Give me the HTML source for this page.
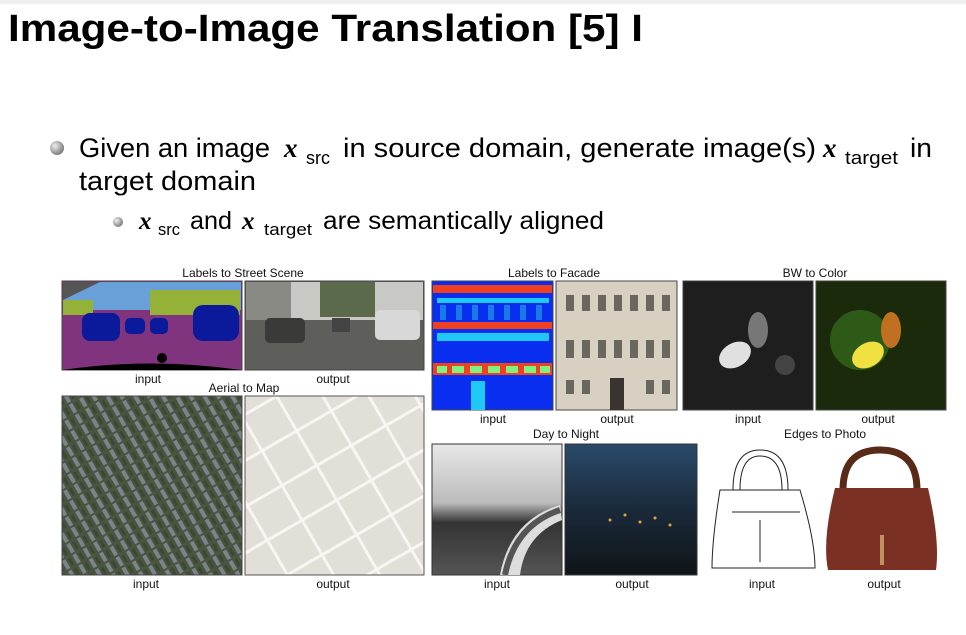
<!DOCTYPE html>
<html><head><meta charset="utf-8"><style>
html,body{margin:0;padding:0;background:#fff;width:966px;height:635px;overflow:hidden}
svg{display:block}
</style></head><body>
<svg width="966" height="635" viewBox="0 0 966 635" xmlns="http://www.w3.org/2000/svg" font-family="Liberation Sans, sans-serif">
<defs>
<radialGradient id="ball" cx="0.35" cy="0.35" r="0.7"><stop offset="0" stop-color="#eee"/><stop offset="1" stop-color="#777"/></radialGradient>
<linearGradient id="night" x1="0" y1="0" x2="0" y2="1"><stop offset="0" stop-color="#2a4a6a"/><stop offset="0.5" stop-color="#1a2a3a"/><stop offset="1" stop-color="#101418"/></linearGradient>
<linearGradient id="day" x1="0" y1="0" x2="0" y2="1"><stop offset="0" stop-color="#e8e8e8"/><stop offset="0.45" stop-color="#bbb"/><stop offset="0.6" stop-color="#333"/><stop offset="1" stop-color="#555"/></linearGradient>
<pattern id="aerial" width="12" height="12" patternUnits="userSpaceOnUse" patternTransform="rotate(-30)"><rect width="12" height="12" fill="#4a5440"/><rect x="1" y="1" width="4" height="10" fill="#7a848a"/><rect x="7" y="2" width="3" height="8" fill="#3a4a30"/></pattern>
<pattern id="map" width="40" height="40" patternUnits="userSpaceOnUse" patternTransform="rotate(-30)"><rect width="40" height="40" fill="#e2dfd8"/><rect x="0" y="0" width="40" height="3" fill="#f7f6f3"/><rect x="0" y="0" width="3" height="40" fill="#f7f6f3"/></pattern>
</defs>
<rect x="0" y="0" width="966" height="4" fill="#f0f0f0"/>
<text x="8" y="41" font-size="38" font-weight="bold" textLength="635" lengthAdjust="spacingAndGlyphs" fill="#000">Image-to-Image Translation [5] I</text>

<circle cx="57" cy="148" r="7" fill="url(#ball)"/>
<g font-size="27" fill="#000">
<text x="79" y="157" textLength="191" lengthAdjust="spacingAndGlyphs">Given an image</text>
<text x="284" y="157" font-family="Liberation Serif, serif" font-style="italic" font-weight="bold" font-size="27">x</text>
<text x="306" y="164" font-size="18" textLength="24" lengthAdjust="spacingAndGlyphs">src</text>
<text x="343" y="157" textLength="473" lengthAdjust="spacingAndGlyphs">in source domain, generate image(s)</text>
<text x="823" y="157" font-family="Liberation Serif, serif" font-style="italic" font-weight="bold" font-size="27">x</text>
<text x="845" y="164" font-size="18" textLength="53" lengthAdjust="spacingAndGlyphs">target</text>
<text x="910" y="157" textLength="22" lengthAdjust="spacingAndGlyphs">in</text>
<text x="79" y="190" textLength="177" lengthAdjust="spacingAndGlyphs">target domain</text>
</g>
<circle cx="118" cy="222" r="5" fill="url(#ball)"/>
<g font-size="25" fill="#000">
<text x="139" y="229" font-family="Liberation Serif, serif" font-style="italic" font-weight="bold" font-size="25">x</text>
<text x="158" y="235" font-size="17" textLength="22" lengthAdjust="spacingAndGlyphs">src</text>
<text x="190" y="229" textLength="42" lengthAdjust="spacingAndGlyphs">and</text>
<text x="242" y="229" font-family="Liberation Serif, serif" font-style="italic" font-weight="bold" font-size="25">x</text>
<text x="264" y="235" font-size="17" textLength="48" lengthAdjust="spacingAndGlyphs">target</text>
<text x="323" y="229" textLength="281" lengthAdjust="spacingAndGlyphs">are semantically aligned</text>
</g>

<g font-size="12" fill="#111" text-anchor="middle">
<text x="243" y="277">Labels to Street Scene</text>
<text x="554" y="277">Labels to Facade</text>
<text x="815" y="277">BW to Color</text>
<text x="148" y="383">input</text><text x="333" y="383">output</text>
<text x="244" y="392">Aerial to Map</text>
<text x="493" y="423">input</text><text x="617" y="423">output</text>
<text x="748" y="423">input</text><text x="878" y="423">output</text>
<text x="566" y="438">Day to Night</text>
<text x="825" y="438">Edges to Photo</text>
<text x="146" y="588">input</text><text x="333" y="588">output</text>
<text x="497" y="588">input</text><text x="632" y="588">output</text>
<text x="762" y="588">input</text><text x="884" y="588">output</text>
</g>

<!-- street labels -->
<rect x="62" y="281" width="180" height="89" fill="#80347e" stroke="#444"/>
<polygon points="63,282 241,282 241,310 63,310" fill="#6aa0d8"/>
<polygon points="63,282 100,282 63,300" fill="#555"/>
<rect x="150" y="290" width="90" height="25" fill="#95b238"/>
<rect x="63" y="300" width="30" height="15" fill="#95b238"/>
<rect x="82" y="313" width="38" height="28" rx="8" fill="#0a1a9a"/>
<rect x="125" y="318" width="20" height="16" rx="5" fill="#0a1a9a"/>
<rect x="150" y="318" width="18" height="16" rx="5" fill="#0a1a9a"/>
<rect x="193" y="305" width="46" height="36" rx="10" fill="#0a1a9a"/>
<path d="M63 370 Q150 357 241 370Z" fill="#000"/>
<circle cx="162" cy="358" r="5" fill="#000"/>
<!-- street output -->
<rect x="245" y="281" width="179" height="89" fill="#5e5e5a" stroke="#444"/>
<rect x="246" y="282" width="177" height="38" fill="#c8c8c4"/>
<rect x="246" y="282" width="45" height="38" fill="#8a8a84"/>
<rect x="320" y="282" width="55" height="35" fill="#5a6a4a"/>
<rect x="265" y="318" width="40" height="25" rx="5" fill="#3a3a38"/>
<rect x="375" y="310" width="45" height="30" rx="5" fill="#d8d8d8"/>
<rect x="332" y="318" width="18" height="14" fill="#444"/>

<!-- aerial -->
<rect x="62" y="396" width="180" height="179" fill="url(#aerial)" stroke="#444"/>
<rect x="245" y="396" width="179" height="179" fill="url(#map)" stroke="#555"/>

<!-- facade labels -->
<rect x="432" y="281" width="121" height="129" fill="#0a2ef0" stroke="#444"/>
<rect x="433" y="285" width="119" height="8" fill="#f04020"/>
<rect x="433" y="322" width="119" height="7" fill="#f04020"/>
<rect x="433" y="363" width="119" height="12" fill="#f04020"/>
<g fill="#20c8f8">
<rect x="437" y="298" width="112" height="5"/><rect x="437" y="333" width="112" height="8"/>
<rect x="471" y="381" width="14" height="29"/>
</g>
<g fill="#80f080"><rect x="437" y="366" width="10" height="7"/><rect x="452" y="366" width="12" height="7"/><rect x="470" y="366" width="12" height="7"/><rect x="488" y="366" width="12" height="7"/><rect x="506" y="366" width="12" height="7"/><rect x="524" y="366" width="12" height="7"/><rect x="540" y="366" width="10" height="7"/></g>
<g fill="#1a7ae8"><rect x="440" y="305" width="6" height="15"/><rect x="456" y="305" width="6" height="15"/><rect x="472" y="305" width="6" height="15"/><rect x="488" y="305" width="6" height="15"/><rect x="504" y="305" width="6" height="15"/><rect x="520" y="305" width="6" height="15"/><rect x="536" y="305" width="6" height="15"/></g>
<!-- facade output -->
<rect x="556" y="281" width="121" height="129" fill="#d8d0c0" stroke="#444"/>
<g fill="#6a6660"><rect x="566" y="295" width="8" height="16"/><rect x="582" y="295" width="8" height="16"/><rect x="598" y="295" width="8" height="16"/><rect x="614" y="295" width="8" height="16"/><rect x="630" y="295" width="8" height="16"/><rect x="646" y="295" width="8" height="16"/><rect x="662" y="295" width="8" height="16"/>
<rect x="566" y="340" width="8" height="18"/><rect x="582" y="340" width="8" height="18"/><rect x="598" y="340" width="8" height="18"/><rect x="614" y="340" width="8" height="18"/><rect x="630" y="340" width="8" height="18"/><rect x="646" y="340" width="8" height="18"/><rect x="662" y="340" width="8" height="18"/>
<rect x="566" y="380" width="8" height="14"/><rect x="582" y="380" width="8" height="14"/><rect x="610" y="378" width="14" height="32" fill="#3a3430"/><rect x="646" y="380" width="8" height="14"/><rect x="662" y="380" width="8" height="14"/></g>

<!-- BW -->
<rect x="683" y="281" width="130" height="129" fill="#1e1e1e" stroke="#444"/>
<ellipse cx="735" cy="355" rx="17" ry="12" fill="#e0e0e0" transform="rotate(-30 735 355)"/>
<ellipse cx="758" cy="330" rx="10" ry="18" fill="#777"/>
<circle cx="785" cy="365" r="10" fill="#444"/>
<rect x="816" y="281" width="130" height="129" fill="#1a2a0a" stroke="#444"/>
<ellipse cx="860" cy="340" rx="30" ry="30" fill="#2e5a18"/>
<ellipse cx="868" cy="355" rx="17" ry="12" fill="#f0e040" transform="rotate(-30 868 355)"/>
<ellipse cx="891" cy="330" rx="10" ry="18" fill="#c07020"/>

<!-- day/night -->
<rect x="432" y="444" width="130" height="131" fill="url(#day)" stroke="#333"/>
<path d="M500 575 Q510 520 560 505 L562 520 Q525 535 520 575Z" fill="#ddd"/>
<path d="M505 575 Q515 525 560 510" stroke="#555" stroke-width="6" fill="none"/>
<rect x="565" y="444" width="132" height="131" fill="url(#night)" stroke="#333"/>
<g fill="#e8a040"><circle cx="610" cy="520" r="1.5"/><circle cx="625" cy="515" r="1.5"/><circle cx="640" cy="522" r="1.5"/><circle cx="655" cy="518" r="1.5"/><circle cx="670" cy="525" r="1.5"/></g>

<!-- edges -->
<g fill="none" stroke="#222" stroke-width="1">
<path d="M733 490 Q733 450 760 450 Q788 450 788 490"/>
<path d="M740 490 Q740 456 760 456 Q782 456 782 490"/>
<path d="M720 490 L800 490 Q815 540 815 568 L712 568 Q712 540 720 490Z"/>
<path d="M732 512 L800 512"/><path d="M760 520 L760 562"/>
</g>
<path d="M843 490 Q843 450 880 450 Q917 450 917 490" stroke="#5a2a18" stroke-width="7" fill="none"/>
<path d="M835 488 L928 488 Q940 540 936 570 L828 570 Q822 540 835 488Z" fill="#7a3022"/>
<rect x="880" y="535" width="4" height="30" fill="#c09060"/>
</svg>
</body></html>
